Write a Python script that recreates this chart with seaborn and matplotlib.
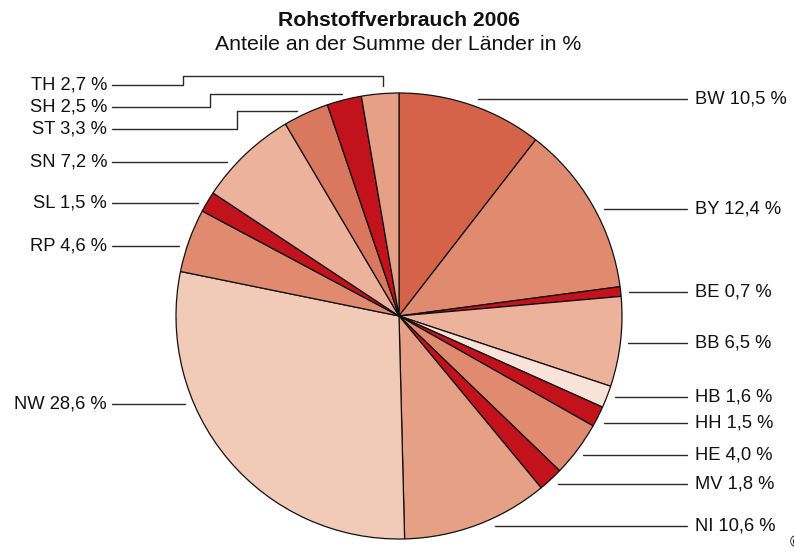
import numpy as np
import matplotlib
matplotlib.use("Agg")
import matplotlib.pyplot as plt
import seaborn as sns

# ---- data ----
laender = ["BW", "BY", "BE", "BB", "HB", "HH", "HE", "MV",
           "NI", "NW", "RP", "SL", "SN", "ST", "SH", "TH"]
anteile = [10.5, 12.4, 0.7, 6.5, 1.6, 1.5, 4.0, 1.8,
           10.6, 28.6, 4.6, 1.5, 7.2, 3.3, 2.5, 2.7]
farben = ["#D4634A", "#E08A70", "#C2131C", "#EDB29C", "#F9E2D8", "#C2131C",
          "#E08A70", "#C2131C", "#E6A086", "#F2CAB8", "#E08A70", "#C2131C",
          "#EDB29C", "#D9785E", "#C2131C", "#E6A086"]
title = "Rohstoffverbrauch 2006"
subtitle = "Anteile an der Summe der Länder in %"

# ---- layout (pixel coordinates) ----
W, H = 794, 556
cx, cy, R = 399, 316, 223
R_line = 231
# label y positions: right side / left side
right_y = {"BW": 99, "BY": 209, "BE": 292, "BB": 343, "HB": 397,
           "HH": 423, "HE": 455, "MV": 484, "NI": 526}
left_y = {"NW": 404, "RP": 246, "SL": 203, "SN": 162}
# bracketed labels: (text y, elbow x, top y, end x, end y)
bracket = {"TH": (85, 183, 76, 383, 86),
           "SH": (107, 210, 94, 342, 94),
           "ST": (129, 237, 111, 297, 111)}

sns.set_theme(style="white")
plt.rcParams["font.family"] = ["Liberation Sans", "DejaVu Sans"]

fig = plt.figure(figsize=(W / 100, H / 100), dpi=100)
ax = fig.add_axes([0, 0, 1, 1])

ax.pie(anteile, colors=farben, startangle=-90, counterclock=True,
       center=(cx, cy), radius=R, frame=True,
       wedgeprops=dict(edgecolor="#111111", linewidth=0.9))
ax.set_aspect("auto")
ax.set_xlim(0, W)
ax.set_ylim(H, 0)
ax.axis("off")

def fmt(name, v):
    return f"{name} {v:.1f} %".replace(".", ",")

lc = "#2a2a2a"
tc = "#111111"
fs = 13.2
for name, v in zip(laender, anteile):
    if name in right_y:
        y = right_y[name]
        x0 = cx + np.sqrt(R_line ** 2 - (y - cy) ** 2)
        ax.plot([x0, 687], [y, y], color=lc, lw=1.0)
        ax.text(695, y, fmt(name, v), ha="left", va="center", fontsize=fs, color=tc)
    elif name in left_y:
        y = left_y[name]
        x0 = cx - np.sqrt(R_line ** 2 - (y - cy) ** 2)
        ax.plot([112, x0], [y, y], color=lc, lw=1.0)
        ax.text(107, y, fmt(name, v), ha="right", va="center", fontsize=fs, color=tc)
    else:
        ty, ex, topy, endx, endy = bracket[name]
        ax.plot([112, ex, ex, endx, endx], [ty, ty, topy, topy, endy],
                color=lc, lw=1.0)
        ax.text(107, ty, fmt(name, v), ha="right", va="center", fontsize=fs, color=tc)

fig.text(399 / W, 1 - 20 / H, title, ha="center", va="center",
         fontsize=15.2, fontweight="bold", color=tc)
fig.text(398 / W, 1 - 45 / H, subtitle, ha="center", va="center",
         fontsize=15.3, color=tc)
fig.text(790 / W, 1 - 543 / H, "©", ha="left", va="center", fontsize=12, color=tc)

fig.savefig("out.png", dpi=100)
